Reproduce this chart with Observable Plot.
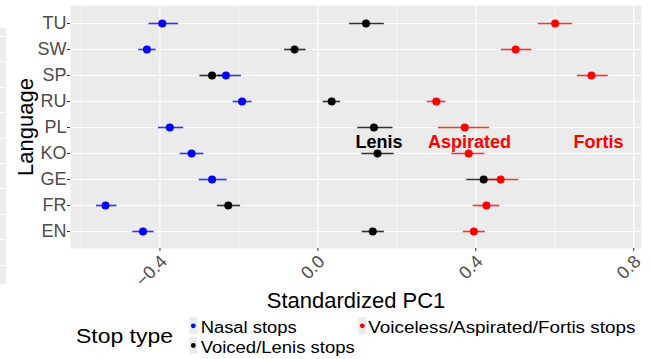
<!DOCTYPE html>
<html><head><meta charset="utf-8">
<script src="https://cdn.jsdelivr.net/npm/d3@7"></script>
<script src="https://cdn.jsdelivr.net/npm/@observablehq/plot@0.6"></script>
<style>
html,body{margin:0;padding:0;background:#fff;}
#wrap{position:relative;width:652px;height:359px;overflow:hidden;}
#strip{position:absolute;left:0;top:28px;width:6px;height:256px;background:#ececec;
  background-image:repeating-linear-gradient(to bottom, transparent 0px, transparent 8px, #fff 8px, #fff 9px, transparent 9px, transparent 25.4px);}
#chart{position:absolute;left:0;top:0;}
svg text{font-family:"Liberation Sans",Arial,Helvetica,sans-serif;}
</style></head>
<body>
<div id="wrap"><div id="strip"></div><div id="chart"></div></div>
<script>
const languages = ["TU","SW","SP","RU","PL","KO","GE","FR","EN"];
const stopTypes = ["Nasal stops","Voiced/Lenis stops","Voiceless/Aspirated/Fortis stops"];
const stopColors = ["#0000ff","#000000","#ff0000"];
const nasalMean = [-0.394,-0.433,-0.233,-0.192,-0.375,-0.320,-0.268,-0.538,-0.443];
const nasalLow  = [-0.429,-0.455,-0.254,-0.216,-0.405,-0.350,-0.302,-0.562,-0.470];
const nasalHigh = [-0.354,-0.411,-0.195,-0.168,-0.341,-0.290,-0.231,-0.510,-0.416];
const voicedMean = [0.122,-0.059,-0.268,0.035,0.142,0.151,0.420,-0.227,0.139];
const voicedLow  = [0.079,-0.086,-0.300,0.012,0.100,0.110,0.376,-0.256,0.111];
const voicedHigh = [0.167,-0.031,-0.236,0.056,0.189,0.192,0.464,-0.197,0.167];
const vlMean = [0.601,0.501,0.693,0.300,0.372,0.382,0.463,0.427,0.395];
const vlLow  = [0.557,0.463,0.656,0.276,0.304,0.338,0.418,0.392,0.367];
const vlHigh = [0.644,0.541,0.734,0.323,0.434,0.422,0.508,0.460,0.423];
const majorTicks = [-0.4,0.0,0.4,0.8];
const minorTicks = [-0.6,-0.2,0.2,0.6];
const annLabels = ["Lenis","Aspirated","Fortis"];
const annX = [0.155,0.384,0.711];
const annColor = ["#000000","#ff0000","#ff0000"];

const series = [[nasalMean,nasalLow,nasalHigh],[voicedMean,voicedLow,voicedHigh],[vlMean,vlLow,vlHigh]];
const rows = [];
series.forEach((s,k)=>languages.forEach((lang,i)=>rows.push({lang,type:stopTypes[k],mean:s[0][i],lo:s[1][i],hi:s[2][i]})));
const ann = annLabels.map((t,i)=>({t,x:annX[i],y:"KO",c:annColor[i]}));

const plot = Plot.plot({
  width:652, height:359,
  marginTop:5, marginBottom:111, marginLeft:70, marginRight:11,
  style:{fontFamily:'"Liberation Sans",Arial,sans-serif', background:"transparent"},
  x:{domain:[-0.6266,0.8197]},
  y:{type:"point", domain:languages, padding:0.6},
  color:{domain:stopTypes, range:stopColors},
  marks:[
    Plot.frame({fill:"#ebebeb", stroke:null}),
    Plot.gridX(minorTicks,{stroke:"#fff", strokeOpacity:1, strokeWidth:0.6}),
    Plot.gridX(majorTicks,{stroke:"#fff", strokeOpacity:1, strokeWidth:1.2}),
    Plot.gridY(languages,{stroke:"#fff", strokeOpacity:1, strokeWidth:1.2}),
    Plot.axisY({tickSize:3, tickPadding:1, fontSize:18, color:"#4d4d4d", stroke:"#333", label:null}),
    Plot.axisX(majorTicks,{tickSize:3, stroke:"#333", tickFormat:()=>"", label:null}),
    Plot.axisX(majorTicks,{tickSize:0, tickPadding:7, tickRotate:-45, fontSize:18, dx:4, dy:3, color:"#4d4d4d", tickFormat:d3.format(".1f"), label:null}),
    Plot.link(rows,{x1:"lo", x2:"hi", y1:"lang", y2:"lang", stroke:"type", strokeWidth:1.6, strokeOpacity:0.8}),
    Plot.dot(rows,{x:"mean", y:"lang", fill:"type", r:4, stroke:null}),
    Plot.text(ann,{x:"x", y:"y", text:"t", fill:"c", fontSize:18, fontWeight:"bold", lineAnchor:"bottom", dy:-6}),
    Plot.text(["Standardized PC1"],{frameAnchor:"bottom", dy:59, fontSize:22, fill:"#000", lineAnchor:"bottom"}),
    Plot.text(["Language"],{frameAnchor:"left", rotate:-90, dx:-38, fontSize:22, fill:"#000", textAnchor:"middle", lineAnchor:"bottom"})
  ]
});
document.getElementById("chart").appendChild(plot);

// legend
const svg = d3.select(plot);
const lg = svg.append("g").attr("text-anchor","start");
lg.append("text").attr("x",76).attr("y",343).attr("font-size",21).attr("fill","#000").attr("text-anchor","start")
  .attr("textLength",97).attr("lengthAdjust","spacingAndGlyphs").text("Stop type");
const keys = [
  {x:189.3,y:317.3,tx:200.7,ty:332.7,len:96},
  {x:189.3,y:337,tx:200.7,ty:352.7,len:154},
  {x:358.3,y:317.3,tx:368.3,ty:332.7,len:267}
];
stopTypes.forEach((t,i)=>{
  const k = keys[i];
  lg.append("rect").attr("x",k.x).attr("y",k.y).attr("width",8).attr("height",17).attr("fill","#ebebeb");
  lg.append("circle").attr("cx",k.x+4).attr("cy",k.y+8.5).attr("r",2.4).attr("fill",stopColors[i]);
  lg.append("text").attr("x",k.tx).attr("y",k.ty).attr("font-size",16).attr("fill","#000").attr("text-anchor","start")
    .attr("textLength",k.len).attr("lengthAdjust","spacingAndGlyphs").text(t);
});
</script>
</body></html>
